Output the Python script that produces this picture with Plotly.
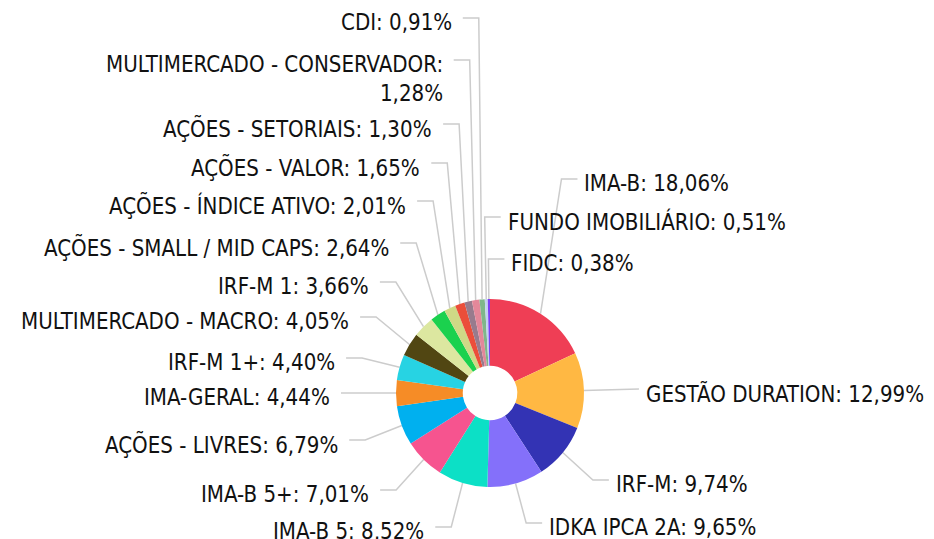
import math
import plotly.graph_objects as go

# ---------------- data ----------------
categories = [
    "IMA-B", "GESTÃO DURATION", "IRF-M", "IDKA IPCA 2A", "IMA-B 5", "IMA-B 5+",
    "AÇÕES - LIVRES", "IMA-GERAL", "IRF-M 1+", "MULTIMERCADO - MACRO", "IRF-M 1",
    "AÇÕES - SMALL / MID CAPS", "AÇÕES - ÍNDICE ATIVO", "AÇÕES - VALOR",
    "AÇÕES - SETORIAIS", "MULTIMERCADO - CONSERVADOR", "CDI",
    "FUNDO IMOBILIÁRIO", "FIDC",
]
values = [18.06, 12.99, 9.74, 9.65, 8.52, 7.01, 6.79, 4.44, 4.40, 4.05, 3.66,
          2.64, 2.01, 1.65, 1.30, 1.28, 0.91, 0.51, 0.38]

# ---------------- styles / layout ----------------
colors = ["#EF3E55", "#FFB843", "#3333B4", "#8470FA", "#0CE0C6", "#F6548F",
          "#00B0EF", "#F68C26", "#27D3E3", "#514612", "#DCE7A0", "#1BD14E",
          "#CFD986", "#EB4E3A", "#987B8D", "#E3889A", "#7FB68A", "#C2D2F0",
          "#7B3DF6"]

WIN_W, WIN_H = 934, 539
PAGE_MARGIN = 8                    # default <body> margin of the html page
W, H = WIN_W - PAGE_MARGIN, WIN_H - PAGE_MARGIN
CX, CY, R = 490, 393, 94           # pie centre / radius (window pixels)
R_LABEL = 133                      # radius where leader lines bend
TICK_LEN = 16                      # horizontal part of leader line
# vertical position (window px from top) of each label's leader line
label_line_y = [179, 389, 480, 523, 527, 490, 440, 393, 358, 317, 282,
                243, 201, 163, 124, 60, 18, 217, 259]
FONT = dict(family="DejaVu Sans Condensed, DejaVu Sans", size=22.1,
            color="#111111")
LINE_H = 28

fig = go.Figure()

px_cx, px_cy = CX - PAGE_MARGIN, CY - PAGE_MARGIN
fig.add_trace(go.Pie(
    labels=categories, values=values, sort=False, direction="clockwise",
    rotation=0, hole=0.29, textinfo="none",
    marker=dict(colors=colors, line=dict(width=0)),
    hovertemplate="%{label}: %{percent}<extra></extra>",
    domain=dict(x=[(px_cx - R) / W, (px_cx + R) / W],
                y=[(H - px_cy - R) / H, (H - px_cy + R) / H]),
    showlegend=False,
))

total = sum(values)
cum = 0.0
annotations = []
for name, v, ly in zip(categories, values, label_line_y):
    theta = math.radians(360.0 * (cum + v / 2) / total)
    cum += v
    s, c = math.sin(theta), math.cos(theta)
    x0, y0 = CX + R * s, CY - R * c
    ex = CX + R_LABEL * s
    right = s > -0.06
    x2 = ex + TICK_LEN if right else ex - TICK_LEN
    fig.add_trace(go.Scatter(
        x=[x0, ex, x2], y=[y0, ly, ly], mode="lines",
        line=dict(color="#CCCCCC", width=1.5), hoverinfo="skip",
        showlegend=False,
    ))
    txt = f"{name}: {v:.2f}".replace(".", ",") + "%"
    nlines = 1
    if len(txt) > 32:
        txt = txt.replace(": ", ":<br>")
        nlines = 2
    yc = ly + 4 + (nlines - 1) * LINE_H / 2
    annotations.append(dict(
        x=x2 + 5 if right else x2 - 9, y=yc, xref="x", yref="y",
        text=txt, showarrow=False, font=FONT,
        xanchor="left" if right else "right", yanchor="middle",
        align="left" if right else "right",
    ))

fig.update_layout(
    width=W, height=H, margin=dict(l=0, r=0, t=0, b=0),
    paper_bgcolor="white", plot_bgcolor="white",
    xaxis=dict(range=[PAGE_MARGIN, WIN_W], visible=False, fixedrange=True),
    yaxis=dict(range=[WIN_H, PAGE_MARGIN], visible=False, fixedrange=True),
    annotations=annotations,
)

fig.write_html("out.html")
